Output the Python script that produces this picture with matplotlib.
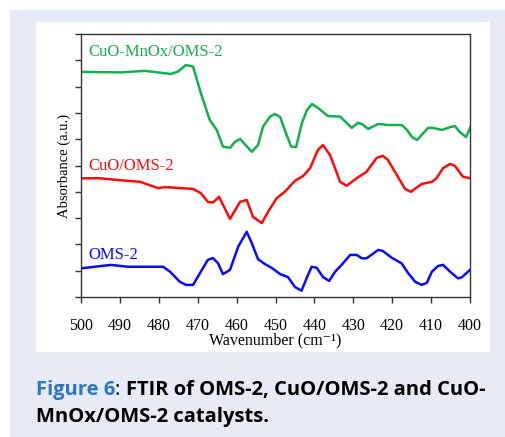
import matplotlib
matplotlib.use("Agg")
import matplotlib.pyplot as plt
from matplotlib.patches import Rectangle
import numpy as np

plt.rcParams['font.family'] = ['Liberation Serif', 'DejaVu Serif']

# data (wavenumber, offset absorbance)
green_x = [500.0, 489.7, 483.6, 476.9, 475.1, 473.0, 471.2, 469.2, 466.9, 465.1,
           463.5, 461.7, 460.4, 459.1, 456.1, 454.5, 453.2, 451.4, 450.1, 448.8,
           447.6, 446.0, 444.7, 443.2, 441.9, 440.6, 439.1, 436.5, 433.4, 430.4,
           428.8, 427.8, 426.2, 423.6, 421.1, 417.5, 416.2, 414.9, 413.6, 410.8,
           409.5, 407.2, 405.1, 403.9, 402.6, 401.0, 400.0]
green_y = [8.56, 8.54, 8.60, 8.48, 8.57, 8.82, 8.76, 7.76, 6.73, 6.35,
           5.72, 5.67, 5.90, 6.01, 5.52, 5.78, 6.48, 6.86, 6.96, 6.84,
           6.35, 5.72, 5.70, 6.62, 7.11, 7.34, 7.19, 6.88, 6.86, 6.43,
           6.62, 6.58, 6.39, 6.58, 6.54, 6.54, 6.35, 6.08, 5.97, 6.43,
           6.43, 6.35, 6.46, 6.50, 6.27, 6.08, 6.43]

red_x = [500.0, 495.6, 490.5, 484.8, 480.2, 478.4, 474.3, 471.2, 469.2, 467.4,
         466.1, 464.5, 461.7, 459.1, 457.4, 455.8, 453.5, 451.9, 449.7, 447.6,
         445.0, 442.9, 441.1, 439.1, 437.8, 436.0, 434.7, 433.4, 431.7, 429.1,
         426.6, 424.0, 422.4, 421.1, 418.8, 416.7, 415.2, 412.4, 409.8, 408.6,
         406.9, 405.1, 403.9, 401.8, 400.0]
red_y = [4.51, 4.52, 4.45, 4.38, 4.14, 4.18, 4.14, 4.11, 3.95, 3.62,
         3.59, 3.81, 2.97, 3.62, 3.69, 3.05, 2.81, 3.24, 3.76, 4.00,
         4.42, 4.60, 4.90, 5.59, 5.78, 5.40, 4.90, 4.38, 4.23, 4.52,
         4.76, 5.29, 5.37, 5.21, 4.64, 4.11, 4.00, 4.30, 4.38, 4.52,
         4.90, 5.06, 4.99, 4.57, 4.52]

blue_x = [500.0, 496.5, 492.3, 487.9, 478.9, 477.1, 474.6, 473.0, 471.2, 469.2,
          467.4, 466.1, 464.8, 463.5, 461.7, 459.6, 457.4, 456.1, 454.5, 452.7,
          451.0, 448.8, 446.8, 445.0, 443.3, 442.0, 440.7, 439.4, 437.8, 436.2,
          434.7, 433.0, 430.8, 429.1, 427.8, 426.6, 423.6, 422.4, 420.1, 417.6,
          415.9, 414.1, 412.4, 411.1, 409.8, 408.2, 406.9, 405.1, 403.1, 402.1,
          400.0]
blue_y = [1.09, 1.15, 1.22, 1.15, 1.15, 0.96, 0.58, 0.46, 0.46, 0.96,
          1.41, 1.48, 1.29, 0.87, 1.03, 1.91, 2.48, 2.05, 1.44, 1.25,
          1.11, 0.87, 0.76, 0.38, 0.24, 0.72, 1.15, 1.11, 0.76, 0.61,
          0.96, 1.22, 1.60, 1.60, 1.47, 1.47, 1.79, 1.75, 1.49, 1.28,
          0.91, 0.58, 0.46, 0.54, 0.96, 1.18, 1.22, 0.96, 0.71, 0.75,
          1.03]

labels = ['CuO-MnOx/OMS-2', 'CuO/OMS-2', 'OMS-2']
label_y = [9.3, 5.0, 1.6]
colors = ['#13b04f', '#ff0a0a', '#0a0aff']

W, H = 506, 437
fig = plt.figure(figsize=(W / 100, H / 100), dpi=100, facecolor='white')

# page background + white panel
fig.patches.append(Rectangle((10 / W, 0), 1, 1 - 10 / H, transform=fig.transFigure,
                             facecolor='#e7ebf6', edgecolor='none', zorder=-2))
fig.patches.append(Rectangle((36 / W, 1 - 352 / H), (490 - 36) / W, (352 - 22) / H,
                             transform=fig.transFigure, facecolor='white',
                             edgecolor='none', zorder=-1))

ax = fig.add_axes([81 / W, 1 - 297 / H, (470 - 81) / W, (297 - 34) / H])
ax.set_facecolor('none')

for xs, ys, c in zip([green_x, red_x, blue_x], [green_y, red_y, blue_y], colors):
    ax.plot(xs, ys, color=c, lw=1.8, solid_joinstyle='round')

for lab, yy, c in zip(labels, label_y, colors):
    ax.text(498, yy, lab, color=c, fontsize=12, va='center', ha='left')

ax.set_xlim(500, 400)
ax.set_ylim(0, 10)
ax.set_xticks(np.arange(500, 399, -10))
ax.set_yticks(np.arange(0, 11, 1))
ax.set_yticklabels([])
ax.tick_params(axis='both', direction='out', length=4, width=1, color='#333333')
ax.tick_params(axis='x', labelsize=11.5, pad=11)
for s in ax.spines.values():
    s.set_linewidth(1.0)
    s.set_color('#333333')

ax.set_xlabel('Wavenumber (cm\u207b\u00b9)', fontsize=11.5, labelpad=-1)
ax.set_ylabel('Absorbance (a.u.)', fontsize=10.5, labelpad=0)

# caption
cap_font = 'Open Sans'
fs = 14.5
renderer = fig.canvas.get_renderer()
t1 = fig.text(36 / W, 1 - 395 / H, 'Figure 6', color='#2f78c0', fontsize=fs,
              fontweight='bold', family=cap_font, va='baseline')
bb = t1.get_window_extent(renderer)
t2 = fig.text(bb.x1 / W, 1 - 395 / H, ': ', color='black', fontsize=fs,
              family=cap_font, va='baseline')
bb = t2.get_window_extent(renderer)
fig.text(bb.x1 / W, 1 - 395 / H, 'FTIR of OMS-2, CuO/OMS-2 and CuO-', color='black',
         fontsize=fs, fontweight='bold', family=cap_font, va='baseline')
fig.text(36 / W, 1 - 422 / H, 'MnOx/OMS-2 catalysts.', color='black', fontsize=fs,
         fontweight='bold', family=cap_font, va='baseline')

fig.savefig('out.png', dpi=100, facecolor=fig.get_facecolor())
